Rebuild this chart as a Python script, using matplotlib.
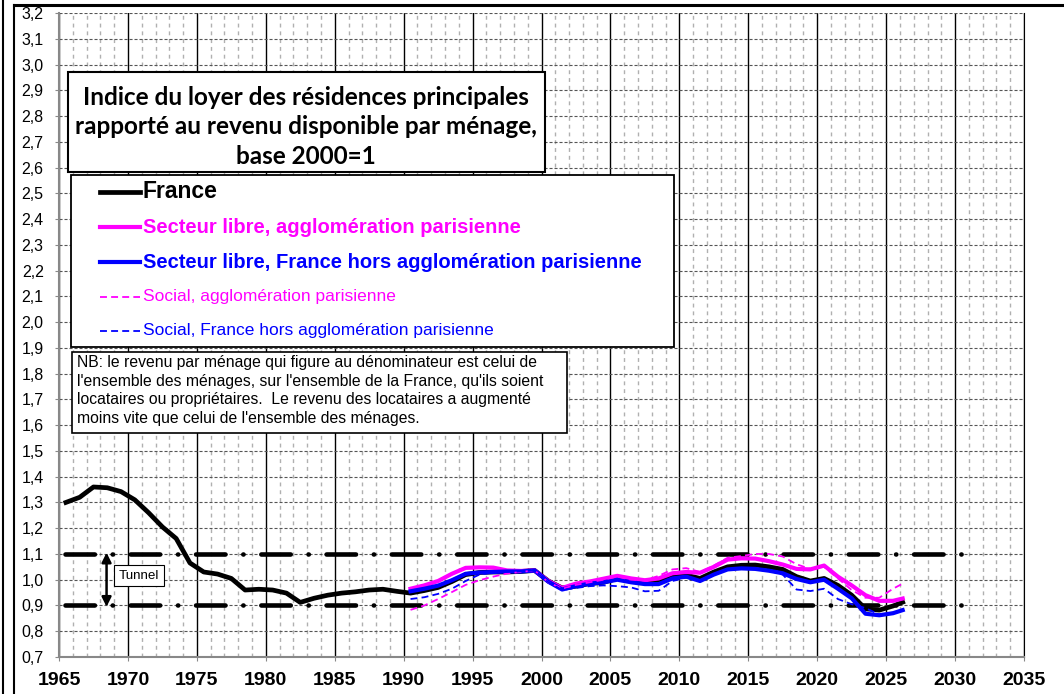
import numpy as np
import matplotlib.pyplot as plt
from matplotlib.lines import Line2D
from matplotlib.patches import Rectangle

plt.rcParams['font.family'] = ['Liberation Sans', 'DejaVu Sans']
plt.rcParams['lines.scale_dashes'] = False

# =============================================================================
# Data
# =============================================================================
years_fr = list(np.arange(1965.5, 2026.0, 1.0)) + [2026.2]
france = [1.300, 1.320, 1.360, 1.357, 1.342, 1.310, 1.260, 1.205, 1.160, 1.065,
          1.030, 1.022, 1.005, 0.960, 0.963, 0.960, 0.948, 0.912, 0.928, 0.940,
          0.948, 0.953, 0.960, 0.963, 0.955,
          0.948, 0.958, 0.970, 0.993, 1.020, 1.028, 1.030, 1.030, 1.032, 1.036,
          0.995, 0.968, 0.975, 0.985, 0.990, 1.005, 0.995, 0.990, 0.990, 1.012,
          1.018, 1.005, 1.030, 1.050, 1.056, 1.057, 1.050, 1.040, 1.012, 0.995,
          1.005, 0.978, 0.940, 0.887, 0.882, 0.898, 0.913]

years_90 = list(np.arange(1990.5, 2026.0, 1.0)) + [2026.2]
libre_paris = [0.965, 0.978, 0.995, 1.023, 1.046, 1.048, 1.047, 1.036, 1.034, 1.036,
               0.995, 0.968, 0.985, 0.993, 1.004, 1.015, 1.005, 0.998, 1.005, 1.025,
               1.030, 1.027, 1.050, 1.078, 1.083, 1.082, 1.072, 1.059, 1.042, 1.040,
               1.055, 1.012, 0.978, 0.940, 0.918, 0.918, 0.927]
libre_prov = [0.955, 0.965, 0.977, 0.998, 1.023, 1.028, 1.030, 1.032, 1.032, 1.036,
              0.992, 0.962, 0.975, 0.985, 0.990, 1.000, 0.990, 0.983, 0.983, 1.005,
              1.012, 0.995, 1.020, 1.040, 1.044, 1.042, 1.035, 1.025, 1.003, 0.990,
              1.000, 0.965, 0.928, 0.868, 0.862, 0.870, 0.882]
social_paris = [0.883, 0.900, 0.925, 0.952, 0.980, 0.998, 1.012, 1.024, 1.030, 1.036,
                0.990, 0.965, 0.980, 0.990, 1.000, 1.012, 1.000, 0.998, 1.015, 1.040,
                1.045, 1.030, 1.055, 1.085, 1.092, 1.100, 1.100, 1.090, 1.060, 1.042,
                1.050, 1.005, 0.960, 0.930, 0.930, 0.965, 0.985]
social_prov = [0.925, 0.932, 0.945, 0.965, 0.995, 1.020, 1.028, 1.030, 1.032, 1.036,
               0.990, 0.960, 0.968, 0.975, 0.978, 0.975, 0.970, 0.955, 0.957, 0.995,
               1.008, 0.995, 1.020, 1.040, 1.045, 1.042, 1.035, 1.020, 0.962, 0.956,
               0.965, 0.925, 0.905, 0.890, 0.865, 0.872, 0.885]

labels = ["France",
          "Secteur libre, agglomération parisienne",
          "Secteur libre, France hors agglomération parisienne",
          "Social, agglomération parisienne",
          "Social, France hors agglomération parisienne"]

tunnel = [0.9, 1.1]
x_ticks = list(range(1965, 2036, 5))
y_ticks = [round(0.7 + 0.1 * i, 1) for i in range(26)]

title = ("Indice du loyer des résidences principales\n"
         "rapporté au revenu disponible par ménage,\n"
         "base 2000=1")
note = ("NB: le revenu par ménage qui figure au dénominateur est celui de\n"
        "l'ensemble des ménages, sur l'ensemble de la France, qu'ils soient\n"
        "locataires ou propriétaires.  Le revenu des locataires a augmenté\n"
        "moins vite que celui de l'ensemble des ménages.")

# =============================================================================
# Figure
# =============================================================================
W, H = 1064, 694
def fx(x):
    return x / W
def fy(y):
    return 1 - y / H

fig = plt.figure(figsize=(W / 100, H / 100), dpi=100, facecolor='white')
ax = fig.add_axes([fx(59), fy(657), (1024 - 59) / W, (657 - 13) / H])

ax.set_xlim(1965, 2035)
ax.set_ylim(0.7, 3.2)

# grid
ax.set_xticks(x_ticks)
ax.set_xticks(range(1965, 2036), minor=True)
ax.set_yticks(y_ticks)
ax.set_yticklabels([f"{v:.1f}".replace('.', ',') for v in y_ticks])
ax.set_xticklabels([str(v) for v in x_ticks], fontsize=14, fontweight='bold')
ax.tick_params(axis='y', labelsize=11.5, direction='out', length=3, color='#888888', pad=8)
ax.tick_params(axis='x', which='major', direction='out', length=3, color='#888888', pad=8)
ax.tick_params(axis='x', which='minor', length=0)
ax.grid(axis='x', which='minor', color='#b0b0b0', lw=1.0, ls=(0, (2.8, 2.8)))
ax.grid(axis='x', which='major', color='black', lw=1.0, ls='-')
ax.grid(axis='y', which='major', color='#555555', lw=0.8, ls=(0, (2.2, 1.4)))
ax.set_axisbelow(True)
ax.spines['top'].set_visible(False)
ax.spines['left'].set_color('#888888')
ax.spines['bottom'].set_color('#888888')
ax.spines['left'].set_linewidth(1.5)
ax.spines['bottom'].set_linewidth(1.5)
ax.spines['right'].set_color('black')

# tunnel
for t in tunnel:
    ax.plot([1965.45, 2030.5], [t, t], color='black', lw=3.3,
            ls=(0, (21.2, 12.8, 0.2, 12.8)), dash_capstyle='round', zorder=3)
ax.annotate('', xy=(1968.45, tunnel[0] - 0.005), xytext=(1968.45, tunnel[1] + 0.005),
            arrowprops=dict(arrowstyle='<|-|>', color='black', lw=1.8,
                            mutation_scale=14, shrinkA=0, shrinkB=0), zorder=4)
ax.text(1970.8, 1.016, "Tunnel", fontsize=9.6, ha='center', va='center', zorder=5,
        bbox=dict(boxstyle='square,pad=0.35', fc='white', ec='black', lw=0.8))

# series
styles = [dict(color='black', lw=3.4, ls='-'),
          dict(color='#ff00ff', lw=3.0, ls='-'),
          dict(color='#0000ff', lw=3.0, ls='-'),
          dict(color='#ff00ff', lw=1.3, ls=(0, (5, 3))),
          dict(color='#0000ff', lw=1.3, ls=(0, (5, 3)))]
series = [(years_fr, france), (years_90, libre_paris), (years_90, libre_prov),
          (years_90, social_paris), (years_90, social_prov)]
for (xs, ys), st in zip(series, styles):
    ax.plot(xs, ys, zorder=6, **st)

# title box
fig.add_artist(Rectangle((fx(68), fy(172)), (545 - 68) / W, (172 - 72) / H,
                         transform=fig.transFigure, fc='white', ec='black', lw=1.5, zorder=5))
fig.text(fx(306), fy(127), title, ha='center', va='center', fontsize=17.5,
         fontweight='bold', family=['Lato', 'DejaVu Sans'], linespacing=1.33, zorder=6)

# legend box
fig.add_artist(Rectangle((fx(71), fy(347)), (674 - 71) / W, (347 - 175) / H,
                         transform=fig.transFigure, fc='white', ec='black', lw=1.3, zorder=5))
rows_y = [192, 227, 262, 296.5, 331]
text_sizes = [16.5, 14.5, 14.5, 12.5, 12.5]
text_weights = ['bold', 'bold', 'bold', 'normal', 'normal']
for lab, st, ry, fs, fw in zip(labels, styles, rows_y, text_sizes, text_weights):
    fig.add_artist(Line2D([fx(100), fx(140)], [fy(ry), fy(ry)], transform=fig.transFigure,
                          zorder=6, **st))
    fig.text(fx(143), fy(ry), lab, ha='left', va='center', fontsize=fs,
             fontweight=fw, color=st['color'], zorder=6)

# note box
fig.add_artist(Rectangle((fx(71.7), fy(433)), (566.7 - 71.7) / W, (433 - 351.7) / H,
                         transform=fig.transFigure, fc='white', ec='black', lw=1.2, zorder=5))
fig.text(fx(77), fy(355), note, ha='left', va='top', fontsize=11.3,
         linespacing=1.3, zorder=6)

# outer frame
fig.add_artist(Line2D([fx(2.5), fx(2.5)], [0, 1], transform=fig.transFigure,
                      color='black', lw=1.5))
fig.add_artist(Line2D([fx(14), fx(14)], [0, fy(4.5)], transform=fig.transFigure,
                      color='black', lw=1.5))
fig.add_artist(Line2D([fx(14), 1], [fy(4.5), fy(4.5)], transform=fig.transFigure,
                      color='black', lw=2.2))

fig.savefig('out.png', dpi=100, facecolor='white')
